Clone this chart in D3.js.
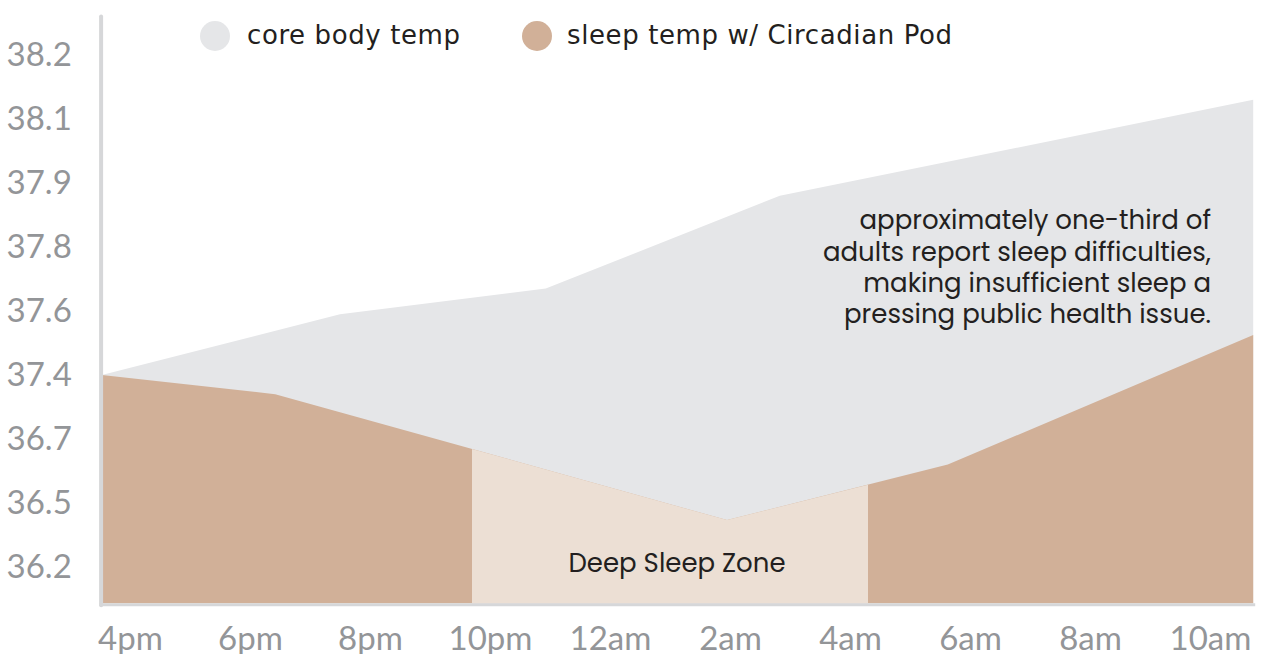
<!DOCTYPE html>
<html>
<head>
<meta charset="utf-8">
<script src="https://cdn.jsdelivr.net/npm/d3@7"></script>
<style>
  html, body { margin: 0; padding: 0; background: #ffffff; }
  svg { display: block; }
</style>
</head>
<body>
<svg id="chart" width="1262" height="654"></svg>
<script>
// ---- data ----
const xLabels = ["4pm", "6pm", "8pm", "10pm", "12am", "2am", "4am", "6am", "8am", "10am"];
const xHours = [0, 2, 4, 6, 8, 10, 12, 14, 16, 18];           // hours after 4pm
const yTicks = [36.2, 36.5, 36.7, 37.4, 37.6, 37.8, 37.9, 38.1, 38.2];
const coreHours = [-0.47, 3.5, 6.93, 10.83, 18.72];
const coreTemp = [37.4, 37.59, 37.67, 37.88, 38.13];
const podHours = [-0.47, 2.42, 9.95, 13.63, 18.72];
const podTemp = [37.4, 37.19, 36.42, 36.62, 37.525];
const deepZone = [5.7, 12.3];
const baseTemp = 36.03;
const topTemp = 38.26;
const legendLabels = ["core body temp", "sleep temp w/ Circadian Pod"];
const noteLines = ["approximately one-third of", "adults report sleep difficulties,", "making insufficient sleep a", "pressing public health issue."];
const zoneLabel = "Deep Sleep Zone";

// ---- layout / style ----
const COL_CORE = "#e5e6e8", COL_POD = "#d1b098", COL_ZONE = "#ecdfd4";
const COL_AXIS = "#d6d7d9", COL_TICK = "#939598", COL_TEXT = "#231f20";
const FONT = "Lato, 'Open Sans', sans-serif";
const LEG_FONT = "'Century Gothic', 'DejaVu Sans', sans-serif";
const TEXT_FONT = "Poppins, 'Open Sans', sans-serif";

const svg = d3.select("#chart");

const x = d3.scaleLinear().domain([0, 18]).range([130, 1210]);
const yPos = d3.scalePoint().domain(d3.range(yTicks.length)).range([567, 55]);
const y = d3.scaleLinear().domain(yTicks).range(yTicks.map((d, i) => yPos(i)));

const core = coreHours.map((h, i) => ({h, t: coreTemp[i]}));
const pod = podHours.map((h, i) => ({h, t: podTemp[i]}));

const area = d3.area().x(d => x(d.h)).y0(y(baseTemp)).y1(d => y(d.t));

svg.append("path").datum(core).attr("d", area).attr("fill", COL_CORE);
svg.append("path").datum(pod).attr("d", area).attr("fill", COL_POD);

svg.append("clipPath").attr("id", "zoneClip")
  .append("rect")
  .attr("x", x(deepZone[0])).attr("width", x(deepZone[1]) - x(deepZone[0]))
  .attr("y", 0).attr("height", 654);
svg.append("path").datum(pod).attr("d", area).attr("fill", COL_ZONE)
  .attr("clip-path", "url(#zoneClip)");

// axis lines
svg.append("line")
  .attr("x1", x(coreHours[0]) - 0.7).attr("x2", x(coreHours[0]) - 0.7)
  .attr("y1", y(topTemp)).attr("y2", y(baseTemp) + 2)
  .attr("stroke", COL_AXIS).attr("stroke-width", 4).attr("stroke-linecap", "round");
svg.append("line")
  .attr("x1", x(coreHours[0]) - 2).attr("x2", x(coreHours[coreHours.length - 1]) + 2)
  .attr("y1", y(baseTemp) + 1.5).attr("y2", y(baseTemp) + 1.5)
  .attr("stroke", COL_AXIS).attr("stroke-width", 3);

// y axis labels
const yAxis = svg.append("g")
  .attr("transform", `translate(${x(coreHours[0])},0)`)
  .call(d3.axisLeft(y).tickValues(yTicks).tickSize(0).tickPadding(30).tickFormat(d3.format(".1f")));
yAxis.select(".domain").remove();
yAxis.selectAll("text").attr("font-family", FONT).attr("font-size", 33).attr("fill", COL_TICK);

// x axis labels
const xAxis = svg.append("g")
  .attr("transform", `translate(0,${y(baseTemp)})`)
  .call(d3.axisBottom(x).tickValues(xHours).tickSize(0).tickFormat((d, i) => xLabels[i]));
xAxis.select(".domain").remove();
xAxis.selectAll("text").attr("y", 47).attr("dy", 0)
  .attr("font-family", FONT).attr("font-size", 33).attr("fill", COL_TICK);

// legend
const legend = svg.append("g");
const legX = [215, 537], legTextX = [247, 567];
legendLabels.forEach((lab, i) => {
  legend.append("circle").attr("cx", legX[i]).attr("cy", 36).attr("r", 15)
    .attr("fill", i === 0 ? COL_CORE : COL_POD);
  legend.append("text").attr("x", legTextX[i]).attr("y", 44)
    .attr("font-family", LEG_FONT).attr("font-size", 26).attr("letter-spacing", 0.6)
    .attr("fill", COL_TEXT).text(lab);
});

// annotation
const noteY = [229, 261, 292, 323];
noteLines.forEach((line, i) => {
  svg.append("text").attr("x", x(18) + 1).attr("y", noteY[i])
    .attr("text-anchor", "end")
    .attr("font-family", TEXT_FONT).attr("font-size", 26).attr("fill", COL_TEXT).text(line);
});

svg.append("text").attr("x", 677).attr("y", 572)
  .attr("text-anchor", "middle")
  .attr("font-family", TEXT_FONT).attr("font-size", 26).attr("fill", COL_TEXT).text(zoneLabel);
</script>
</body>
</html>
